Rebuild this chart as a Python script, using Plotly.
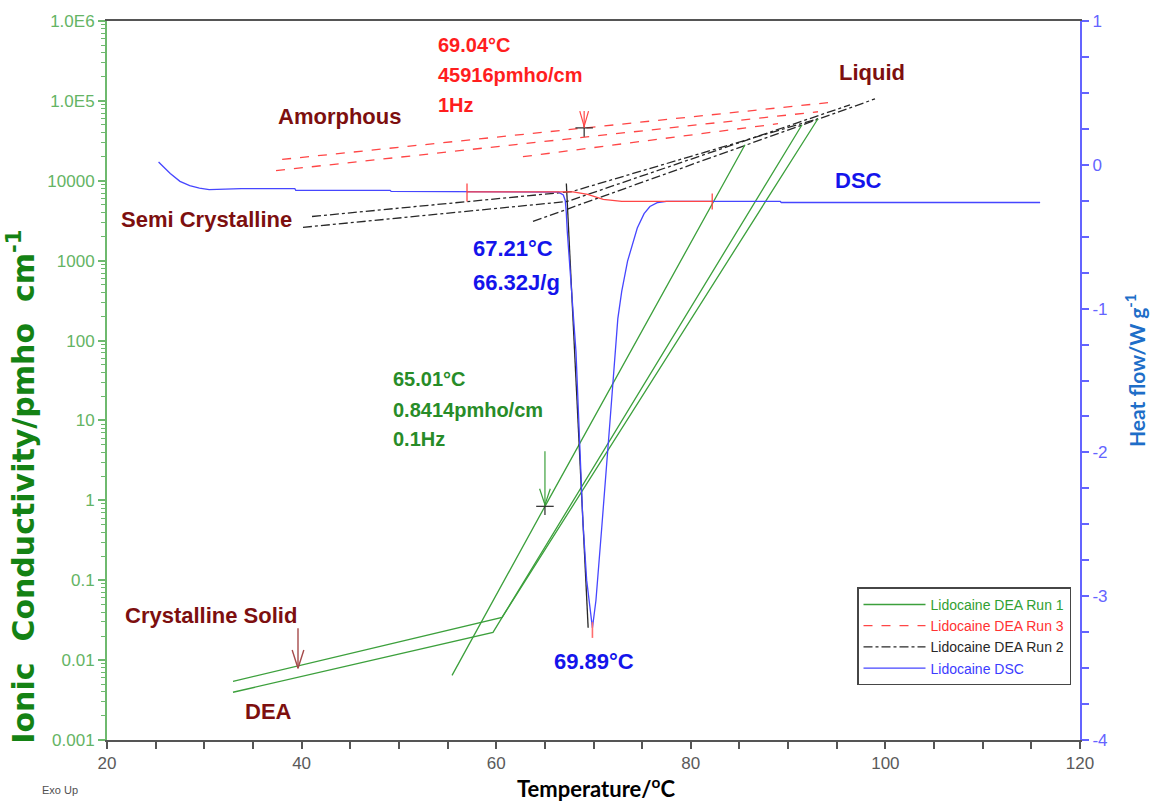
import plotly.graph_objects as go

# ---- DEA conductivity (pmho/cm) vs temperature (°C) ----
# Run 1 (0.1 Hz family), three segments
run1_a_T = [32.95, 60.6, 93.07]
run1_a_s = [0.00543, 0.0342, 59800]
run1_b_T = [32.95, 59.67, 91.43]
run1_b_s = [0.00396, 0.0222, 50300]
run1_c_T = [55.46, 65.01, 85.57]
run1_c_s = [0.00645, 0.8414, 28300]

# Run 3 (1 Hz family)
run3_a_T = [38.0, 69.04, 94.1]
run3_a_s = [18500, 45916, 95000]
run3_b_T = [37.37, 93.07]
run3_b_s = [13400, 73100]
run3_c_T = [62.75, 88.96]
run3_c_s = [20000, 51800]

# Run 2
run2_a_T = [41.07, 67.79, 93.07]
run2_a_s = [3570, 7330, 59800]
run2_b_T = [40.14, 67.28, 96.36]
run2_b_s = [2610, 5500, 89300]
run2_c_T = [63.78, 98.93]
run2_c_s = [3100, 106000]

# ---- DSC heat flow (W/g) ----
dsc_T = [25.3, 26.5, 27.5, 28.5, 29.5, 30.5, 33.8, 39.3, 39.4, 49.1, 49.2,
         65.5, 66.4, 66.9, 67.1, 67.2, 67.3, 68.2, 68.9, 69.3, 69.89, 70.25,
         70.55, 70.85, 71.7, 72.2, 72.5, 72.9, 73.5, 74.5, 75.2, 75.8, 76.6,
         77.5, 89.2, 89.3, 115.9]
dsc_hf = [0.02, -0.06, -0.115, -0.145, -0.162, -0.172, -0.165, -0.165, -0.178,
          -0.178, -0.185, -0.185, -0.19, -0.21, -0.25, -0.33, -0.46, -1.30,
          -2.47, -2.89, -3.22, -3.03, -2.75, -2.52, -1.78, -1.30, -1.07, -0.88,
          -0.67, -0.44, -0.34, -0.29, -0.262, -0.255, -0.255, -0.262, -0.262]

# DSC analysis: integration baseline, onset and peak
base_T = [57.0, 67.9, 69.4, 71.0, 72.9, 82.2]
base_hf = [-0.188, -0.188, -0.205, -0.241, -0.255, -0.255]
onset_T = 67.21
onset_hf = -0.13
tangent_end_T = 69.45
tangent_end_hf = -3.22
peak_T = 69.89
peak_hf = -3.22

# Marked DEA points
mark_red = (69.04, 45916)
mark_green = (65.01, 0.8414)
solid_arrow = (39.63, 0.0079)

GREEN = "rgb(60,160,60)"
RED = "rgb(255,70,70)"
BLACK = "rgb(40,40,40)"
BLUE = "rgb(70,70,255)"
MAROON = "rgb(125,15,15)"

fig = go.Figure()


def cond(T, s, color, dash, name, show, rank):
    fig.add_trace(go.Scatter(
        x=T, y=s, mode="lines", name=name, showlegend=show, legendrank=rank,
        legendgroup=name, line=dict(color=color, width=1.3, dash=dash),
        hoverinfo="skip"))


lg1 = "<span style='color:rgb(50,160,50)'>Lidocaine DEA Run 1</span>"
lg3 = "<span style='color:rgb(255,50,50)'>Lidocaine DEA Run 3</span>"
lg2 = "<span style='color:rgb(40,40,40)'>Lidocaine DEA Run 2</span>"
lgd = "<span style='color:rgb(60,60,255)'>Lidocaine DSC</span>"

cond(run2_a_T, run2_a_s, BLACK, "dashdot", lg2, True, 3)
cond(run2_b_T, run2_b_s, BLACK, "dashdot", lg2, False, 3)
cond(run2_c_T, run2_c_s, BLACK, "dashdot", lg2, False, 3)
cond(run3_a_T, run3_a_s, RED, "dash", lg3, True, 2)
cond(run3_b_T, run3_b_s, RED, "dash", lg3, False, 2)
cond(run3_c_T, run3_c_s, RED, "dash", lg3, False, 2)
cond(run1_a_T, run1_a_s, GREEN, "solid", lg1, True, 1)
cond(run1_b_T, run1_b_s, GREEN, "solid", lg1, False, 1)
cond(run1_c_T, run1_c_s, GREEN, "solid", lg1, False, 1)


def seg(xs, ys, color, yaxis="y", width=1.2):
    fig.add_trace(go.Scatter(x=xs, y=ys, mode="lines", yaxis=yaxis,
                             showlegend=False, hoverinfo="skip",
                             line=dict(color=color, width=width)))


# crosses and arrows at the marked DEA points (log10 offsets in decades)
def cross(T, s):
    seg([T - 0.9, T + 0.9], [s, s], BLACK)
    seg([T, T], [s * 10 ** 0.05, s * 10 ** -0.11], BLACK)


Tr, sr = mark_red
cross(Tr, sr)
seg([Tr, Tr], [sr * 10 ** 0.21, sr], RED)
seg([Tr - 0.45, Tr, Tr + 0.45], [sr * 10 ** 0.21, sr * 10 ** 0.02, sr * 10 ** 0.21], RED)

Tg, sg = mark_green
cross(Tg, sg)
seg([Tg, Tg], [sg * 10 ** 0.69, sg], GREEN)
seg([Tg - 0.55, Tg, Tg + 0.55], [sg * 10 ** 0.22, sg * 10 ** 0.02, sg * 10 ** 0.22], GREEN)

Ts, ss = solid_arrow
seg([Ts, Ts], [ss * 10 ** 0.5, ss], "rgb(165,75,75)", width=1.4)
seg([Ts - 0.6, Ts, Ts + 0.6], [ss * 10 ** 0.23, ss, ss * 10 ** 0.23], "rgb(165,75,75)", width=1.4)

# DSC on the right-hand axis
seg([onset_T, tangent_end_T], [onset_hf, tangent_end_hf], BLACK, "y2", 1.3)
fig.add_trace(go.Scatter(x=dsc_T, y=dsc_hf, mode="lines", yaxis="y2", name=lgd,
                         legendrank=4, line=dict(color=BLUE, width=1.3),
                         hoverinfo="skip"))
seg(base_T, base_hf, RED, "y2", 1.3)
seg([base_T[0], base_T[0]], [base_hf[0] + 0.058, base_hf[0] - 0.067], RED, "y2", 1.3)
seg([base_T[-1], base_T[-1]], [base_hf[-1] + 0.055, base_hf[-1] - 0.056], RED, "y2", 1.3)
seg([peak_T, peak_T], [peak_hf + 0.04, peak_hf - 0.07], "rgb(255,110,110)", "y2", 1.6)

# ---- layout ----
L, R, T, B = 107, 72, 19, 63
W, H = 1152, 803
pw, ph = W - L - R, H - T - B


def px(x):
    return (x - L) / pw


def py(y):
    return (H - B - y) / ph


FONT = "Liberation Sans, Arial"
ann = []


def label(text, x, y, color, size, xanchor="left", yanchor="middle"):
    ann.append(dict(text="<b>" + text + "</b>", x=px(x), y=py(y),
                    xref="paper", yref="paper",
                    xanchor=xanchor, yanchor=yanchor, align="left",
                    showarrow=False,
                    font=dict(family=FONT, size=size, color=color)))


label("Amorphous", 276, 115, MAROON, 22)
label("Liquid", 837, 71, MAROON, 22)
label("Semi Crystalline", 119, 218, MAROON, 22)
label("Crystalline Solid", 123, 615, MAROON, 22)
label("DEA", 243, 711, MAROON, 22)
label("DSC", 833, 179, "rgb(20,20,235)", 22)

RED_TXT = "rgb(255,30,30)"
label("69.04°C", 436, 43, RED_TXT, 20)
label("45916pmho/cm", 436, 73, RED_TXT, 20)
label("1Hz", 436, 103, RED_TXT, 20)

BLUE_TXT = "rgb(20,20,235)"
label("67.21°C", 471, 247, BLUE_TXT, 22)
label("66.32J/g", 471, 281, BLUE_TXT, 22)

GREEN_TXT = "rgb(40,140,40)"
label("65.01°C", 391, 378, GREEN_TXT, 20)
label("0.8414pmho/cm", 391, 409, GREEN_TXT, 20)
label("0.1Hz", 391, 438, GREEN_TXT, 20)

label("69.89°C", 552, 661, BLUE_TXT, 22)

ann.append(dict(text="Exo Up", x=px(40), y=py(790), xref="paper", yref="paper",
                xanchor="left", yanchor="middle", showarrow=False,
                font=dict(family=FONT, size=11, color="rgb(80,80,80)")))

ann.append(dict(text="<b>Ionic  Conductivity/pmho  cm<sup>-1</sup></b>",
                x=px(22), y=py(486), xref="paper", yref="paper", textangle=-90,
                showarrow=False, xanchor="center", yanchor="middle",
                font=dict(family="DejaVu Sans", size=30, color="rgb(20,130,20)")))
ann.append(dict(text="<b>Heat flow/W g<sup>-1</sup></b>",
                x=px(1135), y=py(370), xref="paper", yref="paper", textangle=-90,
                showarrow=False, xanchor="center", yanchor="middle",
                font=dict(family="Lato, Liberation Sans", size=21, color="rgb(30,110,200)")))
ann.append(dict(text="<b>Temperature/<sup>o</sup>C</b>",
                x=px(596), y=py(788), xref="paper", yref="paper",
                showarrow=False, xanchor="center", yanchor="middle",
                font=dict(family="Lato, Liberation Sans", size=22, color="black")))

y_ticks = [1e-3, 1e-2, 1e-1, 1, 10, 100, 1000, 1e4, 1e5, 1e6]
y_text = ["0.001", "0.01", "0.1", "1", "10", "100", "1000", "10000", "1.0E5", "1.0E6"]
hf_ticks = [-4, -3, -2, -1, 0, 1]
hf_text = ["-4", "-3", "-2", "-1", "0", "1"]

fig.update_layout(
    width=W, height=H,
    margin=dict(l=L, r=R, t=T, b=B),
    paper_bgcolor="white", plot_bgcolor="white",
    font=dict(family=FONT, size=16),
    showlegend=True,
    legend=dict(x=px(857), y=py(587), xanchor="left", yanchor="top",
                bordercolor="rgb(70,70,70)", borderwidth=1.5, bgcolor="white",
                font=dict(family=FONT, size=14),
                tracegroupgap=0, itemwidth=62),
    xaxis=dict(range=[20, 120], showgrid=False, zeroline=False,
               showline=True, linecolor="rgb(85,85,85)", linewidth=2, mirror=True,
               ticks="outside", ticklen=7, tickcolor="rgb(85,85,85)", tickwidth=1.5,
               tickvals=[20, 40, 60, 80, 100, 120],
               tickfont=dict(color="rgb(90,90,90)", size=17),
               minor=dict(ticks="outside", ticklen=7, dtick=5,
                          tickcolor="rgb(85,85,85)", tickwidth=1.5)),
    yaxis=dict(type="log", range=[-3, 6], showgrid=False, zeroline=False,
               showline=True, linecolor="rgb(110,185,110)", linewidth=2,
               ticks="outside", ticklen=7, tickcolor="rgb(110,185,110)", tickwidth=1.5,
               tickvals=y_ticks, ticktext=y_text,
               tickfont=dict(color="rgb(100,180,100)", size=17),
               minor=dict(ticks="outside", ticklen=4, dtick="D1",
                          tickcolor="rgb(110,185,110)", tickwidth=1)),
    yaxis2=dict(overlaying="y", side="right", range=[-4, 1], showgrid=False,
                zeroline=False, showline=True, linecolor="rgb(100,100,255)",
                linewidth=2, ticks="outside", ticklen=7,
                tickcolor="rgb(100,100,255)", tickwidth=1.5,
                tickvals=hf_ticks, ticktext=hf_text,
                tickfont=dict(color="rgb(100,100,255)", size=17),
                minor=dict(ticks="outside", ticklen=7, dtick=0.25,
                           tickcolor="rgb(100,100,255)", tickwidth=1.5)),
    annotations=ann,
)

fig.write_html("out.html")
